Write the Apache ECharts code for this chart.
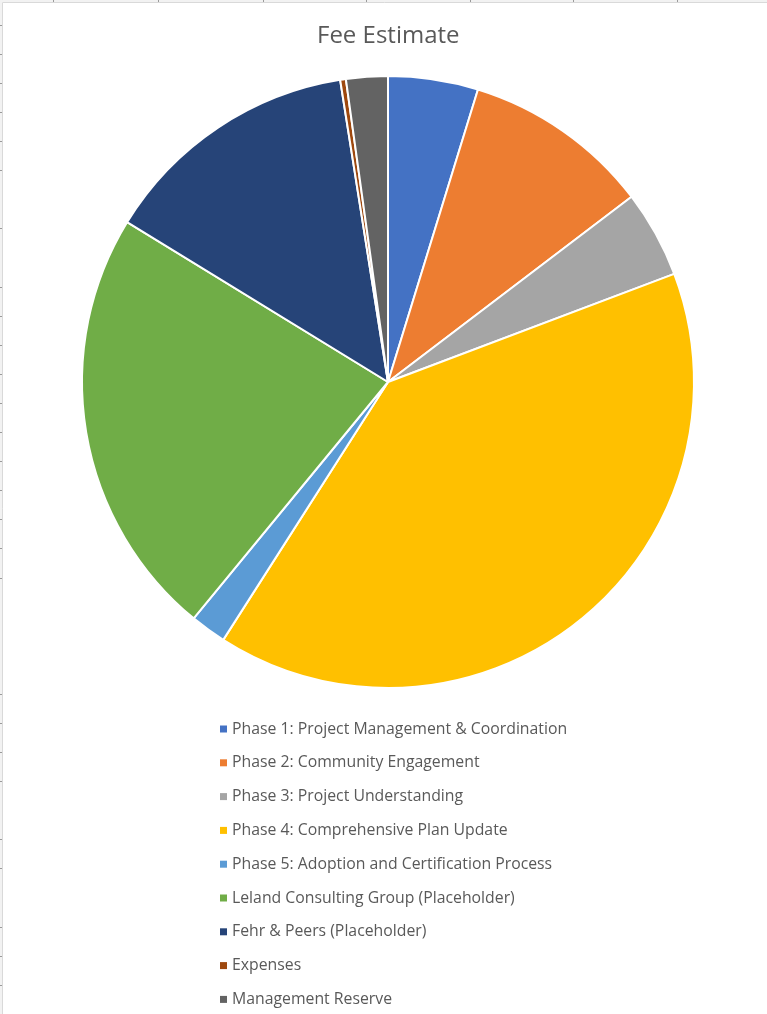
<!DOCTYPE html>
<html>
<head>
<meta charset="utf-8">
<title>Fee Estimate</title>
<script src="https://cdn.jsdelivr.net/npm/echarts@6/dist/echarts.min.js"></script>
<style>
  html, body { margin: 0; padding: 0; background: #fff; }
  #chart { width: 767px; height: 1014px; }
</style>
</head>
<body>
<div id="chart"></div>
<script>
// share of the fee, in percent
const categories = [
  'Phase 1: Project Management & Coordination',
  'Phase 2: Community Engagement',
  'Phase 3: Project Understanding',
  'Phase 4: Comprehensive Plan Update',
  'Phase 5: Adoption and Certification Process',
  'Leland Consulting Group (Placeholder)',
  'Fehr & Peers (Placeholder)',
  'Expenses',
  'Management Reserve'
]
const shares = [4.75, 9.9, 4.6, 39.8, 1.9, 22.8, 13.75, 0.3, 2.2]
const colors = ['#4472C4', '#ED7D31', '#A5A5A5', '#FFC000', '#5B9BD5', '#70AD47', '#264478', '#9E480E', '#636363']

// spreadsheet cell edges peeking round the chart frame
const colTicks = [53, 158, 263, 366, 470, 573, 677]
const rowTicks = [25, 54, 83, 112, 141, 170, 228, 287, 316, 345, 374, 403, 432, 461, 490, 519, 548, 578, 694, 723, 752, 781, 839, 868, 927, 956, 985]

const frame = [
  { type: 'rect', shape: { x: 0, y: 0, width: 767, height: 2 }, style: { fill: '#f2f2f2' } },
  { type: 'rect', shape: { x: 0, y: 0, width: 2, height: 1014 }, style: { fill: '#f2f2f2' } },
  { type: 'line', shape: { x1: 2.5, y1: 2.5, x2: 767, y2: 2.5 }, style: { stroke: '#d9d9d9', lineWidth: 1 } },
  { type: 'line', shape: { x1: 2.5, y1: 2.5, x2: 2.5, y2: 1014 }, style: { stroke: '#d9d9d9', lineWidth: 1 } }
]
colTicks.forEach(x => frame.push({
  type: 'line', shape: { x1: x + 0.5, y1: 0, x2: x + 0.5, y2: 2 }, style: { stroke: '#9a9a9a', lineWidth: 1 }
}))
rowTicks.forEach(y => frame.push({
  type: 'line', shape: { x1: 0, y1: y + 0.5, x2: 2, y2: y + 0.5 }, style: { stroke: '#9a9a9a', lineWidth: 1 }
}))

const chart = echarts.init(document.getElementById('chart'))
chart.setOption({
  animation: false,
  color: colors,
  title: {
    text: 'Fee Estimate',
    left: 317,
    top: 24,
    padding: 0,
    textStyle: { color: '#595959', fontSize: 24, fontWeight: 'normal', fontFamily: 'Open Sans' }
  },
  legend: {
    orient: 'vertical',
    left: 220,
    top: 720,
    height: 300,
    padding: 0,
    icon: 'rect',
    itemWidth: 7,
    itemHeight: 7,
    itemGap: 15.8,
    itemTextGap: 7,
    itemStyle: { borderWidth: 0 },
    textStyle: { color: '#595959', fontSize: 15.8, lineHeight: 18, fontFamily: 'Open Sans' },
    data: categories
  },
  graphic: frame,
  series: [
    {
      type: 'pie',
      center: [388, 382],
      radius: 306,
      startAngle: 90,
      clockwise: true,
      label: { show: false },
      labelLine: { show: false },
      emphasis: { disabled: true },
      itemStyle: { borderColor: '#fff', borderWidth: 2 },
      data: categories.map((name, i) => ({ name: name, value: shares[i] }))
    }
  ]
})
</script>
</body>
</html>
